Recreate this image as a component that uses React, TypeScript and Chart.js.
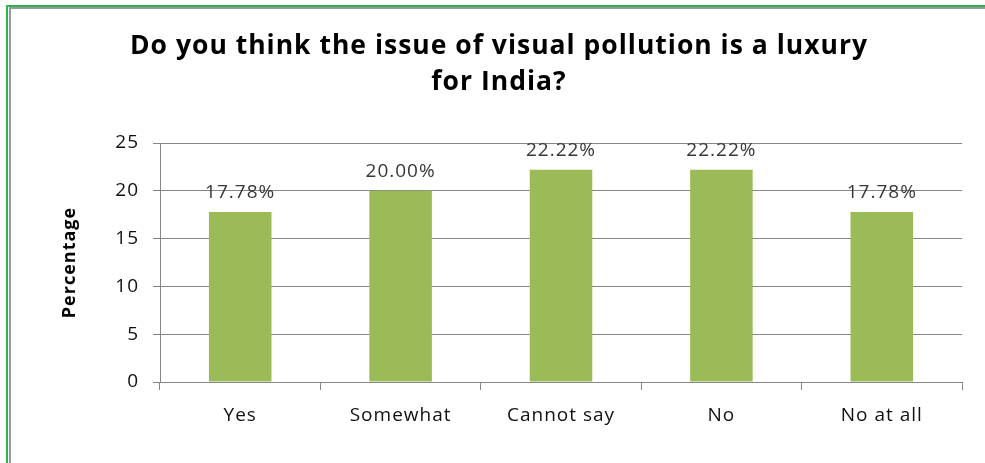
import React, { useEffect, useRef } from "react";
import { Chart, registerables } from "chart.js";

Chart.register(...registerables);

const categories = ["Yes", "Somewhat", "Cannot say", "No", "No at all"];
const percentages = [17.78, 20.0, 22.22, 22.22, 17.78];
const yTicks = [0, 5, 10, 15, 20, 25];
const titleLines = ["Do you think the issue of visual pollution is a luxury", "for India?"];
const yAxisTitle = "Percentage";

const FONT = "'Open Sans', 'DejaVu Sans', sans-serif";
const GRID = "#868686";
const BAR = "#9bbb59";
const SPACING = "1px";

// Slightly open lettering for every text element of the chart.
const letterSpacing = {
  id: "letterSpacing",
  beforeUpdate(chart: any) {
    chart.ctx.letterSpacing = SPACING;
  },
  beforeDraw(chart: any) {
    chart.ctx.letterSpacing = SPACING;
  },
};

// Writes each bar's value above it as a percentage.
const valueLabels = {
  id: "valueLabels",
  afterDatasetsDraw(chart: any) {
    const ctx = chart.ctx;
    const meta = chart.getDatasetMeta(0);
    const data = chart.data.datasets[0].data as number[];
    ctx.save();
    ctx.letterSpacing = "1px";
    ctx.font = `19px ${FONT}`;
    ctx.fillStyle = "#383838";
    ctx.textAlign = "center";
    ctx.textBaseline = "middle";
    meta.data.forEach((bar: any, i: number) => {
      ctx.fillText(`${data[i].toFixed(2)}%`, bar.x, bar.y - 19);
    });
    ctx.restore();
  },
};

export default function App() {
  const ref = useRef<HTMLCanvasElement>(null);

  useEffect(() => {
    document.body.style.margin = "0";
    const chart = new Chart(ref.current!, {
      type: "bar",
      data: {
        labels: categories,
        datasets: [
          {
            data: percentages,
            backgroundColor: BAR,
            barPercentage: 0.39,
            categoryPercentage: 1,
          },
        ],
      },
      options: {
        responsive: false,
        animation: false,
        layout: { padding: { left: 36, right: 23, top: 0, bottom: 0 } },
        plugins: {
          legend: { display: false },
          tooltip: { enabled: false },
          title: {
            display: true,
            text: titleLines,
            color: "#000000",
            font: { family: FONT, size: 26.5, weight: "bold", lineHeight: 1.36 },
            padding: { top: 28, bottom: 43 },
          },
        },
        scales: {
          x: {
            offset: true,
            grid: {
              offset: true,
              drawOnChartArea: false,
              drawTicks: true,
              tickLength: 8,
              color: GRID,
            },
            border: { color: GRID },
            ticks: {
              color: "#111111",
              font: { family: FONT, size: 19 },
              padding: 14,
            },
            afterFit(scale: any) {
              scale.height = 81;
            },
          },
          y: {
            min: 0,
            max: 25,
            afterBuildTicks(scale: any) {
              scale.ticks = yTicks.map((v) => ({ value: v }));
            },
            grid: { color: GRID, tickLength: 7 },
            border: { color: GRID },
            ticks: {
              color: "#111111",
              font: { family: FONT, size: 19 },
              padding: 14,
            },
            title: {
              display: true,
              text: yAxisTitle,
              color: "#000000",
              font: { family: FONT, size: 18, weight: "bold" },
              padding: { top: 23, bottom: 0 },
            },
            afterFit(scale: any) {
              scale.width = 124;
            },
          },
        },
      },
      plugins: [letterSpacing, valueLabels],
    });
    return () => chart.destroy();
  }, []);

  return (
    <div style={{ position: "relative", width: 985, height: 463, background: "#ffffff", overflow: "hidden" }}>
      <div
        style={{
          position: "absolute",
          left: 6,
          top: 5,
          width: 985,
          height: 463,
          borderTop: "2px solid #2db34f",
          borderLeft: "2px solid #2db34f",
          boxSizing: "border-box",
        }}
      >
        <div
          style={{
            position: "absolute",
            left: 1,
            top: 0,
            right: 0,
            bottom: 0,
            borderTop: "2px solid #9a9a9a",
            borderLeft: "2px solid #9a9a9a",
          }}
        />
      </div>
      <canvas ref={ref} width={985} height={463} style={{ position: "absolute", left: 0, top: 0 }} />
    </div>
  );
}
